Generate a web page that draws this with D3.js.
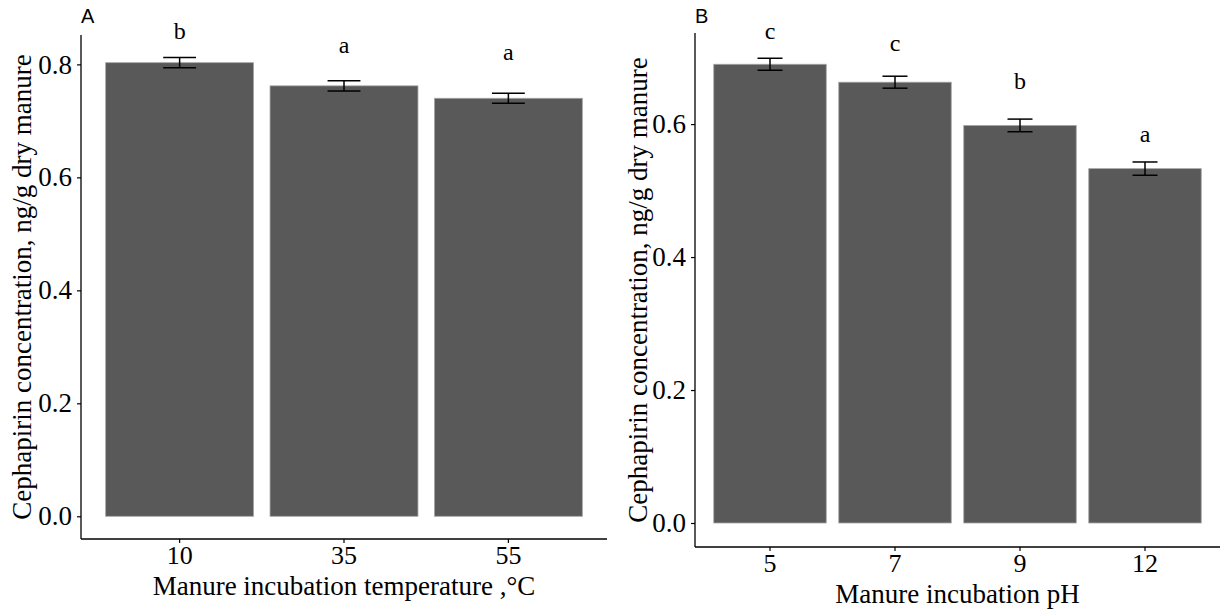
<!DOCTYPE html>
<meta charset="utf-8">
<html>
<head>
<script src="https://d3js.org/d3.v7.min.js"></script>
<style>
  body { margin: 0; background: #fff; }
  text { font-family: "Liberation Serif", "Times New Roman", serif; fill: #000; }
  .panel-tag { font-family: "Liberation Sans", Arial, sans-serif; font-size: 20px; }
</style>
</head>
<body>
<svg id="chart" width="1221" height="611"></svg>
<script>
// panel A: temperature
var tempCats = ["10", "35", "55"];
var tempMeans = [0.803, 0.762, 0.740];
var tempErr = [0.009, 0.009, 0.009];
var tempLetters = ["b", "a", "a"];
var tempLetterY = [0.858, 0.834, 0.822];

// panel B: pH
var phCats = ["5", "7", "9", "12"];
var phMeans = [0.690, 0.663, 0.598, 0.533];
var phErr = [0.009, 0.009, 0.0095, 0.010];
var phLetters = ["c", "c", "b", "a"];
var phLetterY = [0.739, 0.721, 0.664, 0.585];

var yTicksA = [0, 0.2, 0.4, 0.6, 0.8];
var yTicksB = [0, 0.2, 0.4, 0.6];

var svg = d3.select("#chart");

function drawPanel(opt) {
  var g = svg.append("g");

  var x = d3.scaleBand()
    .domain(opt.cats)
    .range([opt.left, opt.right])
    .paddingInner(0.1)
    .paddingOuter(0.15);

  var y = d3.scaleLinear()
    .domain(opt.yDomain)
    .range([opt.bottom, opt.top]);

  var rows = opt.cats.map(function (c, i) {
    return { cat: c, mean: opt.means[i], err: opt.err[i], letter: opt.letters[i], ly: opt.letterY[i] };
  });

  // bars
  g.selectAll("rect.bar").data(rows).enter()
    .append("rect")
    .attr("x", function (d) { return x(d.cat); })
    .attr("width", x.bandwidth())
    .attr("y", function (d) { return y(d.mean); })
    .attr("height", function (d) { return y(0) - y(d.mean); })
    .style("fill", "#595959")
    .style("stroke", "#a6a6a6")
    .style("stroke-width", 0.8);

  // error bars
  var cap = x.step() * 0.1;
  var eb = g.selectAll("g.eb").data(rows).enter().append("g")
    .attr("transform", function (d) { return "translate(" + (x(d.cat) + x.bandwidth() / 2) + ",0)"; })
    .style("stroke", "#000")
    .style("stroke-width", 1.5);
  eb.append("line")
    .attr("y1", function (d) { return y(d.mean - d.err); })
    .attr("y2", function (d) { return y(d.mean + d.err); });
  eb.append("line").attr("x1", -cap).attr("x2", cap)
    .attr("y1", function (d) { return y(d.mean + d.err); })
    .attr("y2", function (d) { return y(d.mean + d.err); });
  eb.append("line").attr("x1", -cap).attr("x2", cap)
    .attr("y1", function (d) { return y(d.mean - d.err); })
    .attr("y2", function (d) { return y(d.mean - d.err); });

  // significance letters
  g.selectAll("text.letter").data(rows).enter()
    .append("text")
    .attr("x", function (d) { return x(d.cat) + x.bandwidth() / 2; })
    .attr("y", function (d) { return y(d.ly); })
    .attr("text-anchor", "middle")
    .attr("dy", "0.32em")
    .style("font-size", "24px")
    .text(function (d) { return d.letter; });

  // axes
  var yAxis = g.append("g")
    .attr("transform", "translate(" + opt.left + ",0)")
    .call(d3.axisLeft(y).tickValues(opt.yTicks).tickFormat(d3.format(".1f")).tickSize(4).tickPadding(5));
  yAxis.select(".domain").remove();
  yAxis.append("line")
    .attr("y1", opt.top).attr("y2", opt.bottom)
    .style("stroke", "#000").style("stroke-width", 1.3);
  yAxis.selectAll(".tick text").style("font-size", "27px");

  var xAxis = g.append("g")
    .attr("transform", "translate(0," + opt.bottom + ")")
    .call(d3.axisBottom(x).tickSize(4).tickPadding(3));
  xAxis.select(".domain").remove();
  xAxis.append("line")
    .attr("x1", opt.left).attr("x2", opt.right)
    .style("stroke", "#000").style("stroke-width", 1.3);
  xAxis.selectAll(".tick text").style("font-size", "26px");

  g.selectAll(".tick text")
    .style("font-family", "'Liberation Serif', 'Times New Roman', serif")
    .style("fill", "#000");
  g.selectAll(".tick line").style("stroke", "#000").style("stroke-width", 1.2);

  // axis titles
  g.append("text")
    .attr("x", (opt.left + opt.right) / 2)
    .attr("y", opt.bottom + opt.xTitleGap)
    .attr("text-anchor", "middle")
    .style("font-size", "27px")
    .text(opt.xTitle);

  g.append("text")
    .attr("transform", "translate(" + (opt.left - opt.yTitleGap) + "," + ((opt.top + opt.bottom) / 2) + ") rotate(-90)")
    .attr("text-anchor", "middle")
    .style("font-size", "27px")
    .text("Cephapirin concentration, ng/g dry manure");

  // panel tag
  g.append("text")
    .attr("class", "panel-tag")
    .attr("x", opt.left)
    .attr("y", 23)
    .text(opt.tag);
}

drawPanel({
  tag: "A", cats: tempCats, means: tempMeans, err: tempErr,
  letters: tempLetters, letterY: tempLetterY, yTicks: yTicksA,
  yDomain: [-0.0402, 0.852],
  left: 81, right: 607, top: 35, bottom: 539,
  xTitle: "Manure incubation temperature ,\u00b0C", xTitleGap: 56, yTitleGap: 50
});

drawPanel({
  tag: "B", cats: phCats, means: phMeans, err: phErr,
  letters: phLetters, letterY: phLetterY, yTicks: yTicksB,
  yDomain: [-0.0361, 0.737],
  left: 695, right: 1220, top: 33, bottom: 547,
  xTitle: "Manure incubation pH", xTitleGap: 56, yTitleGap: 48
});
</script>
</body>
</html>
